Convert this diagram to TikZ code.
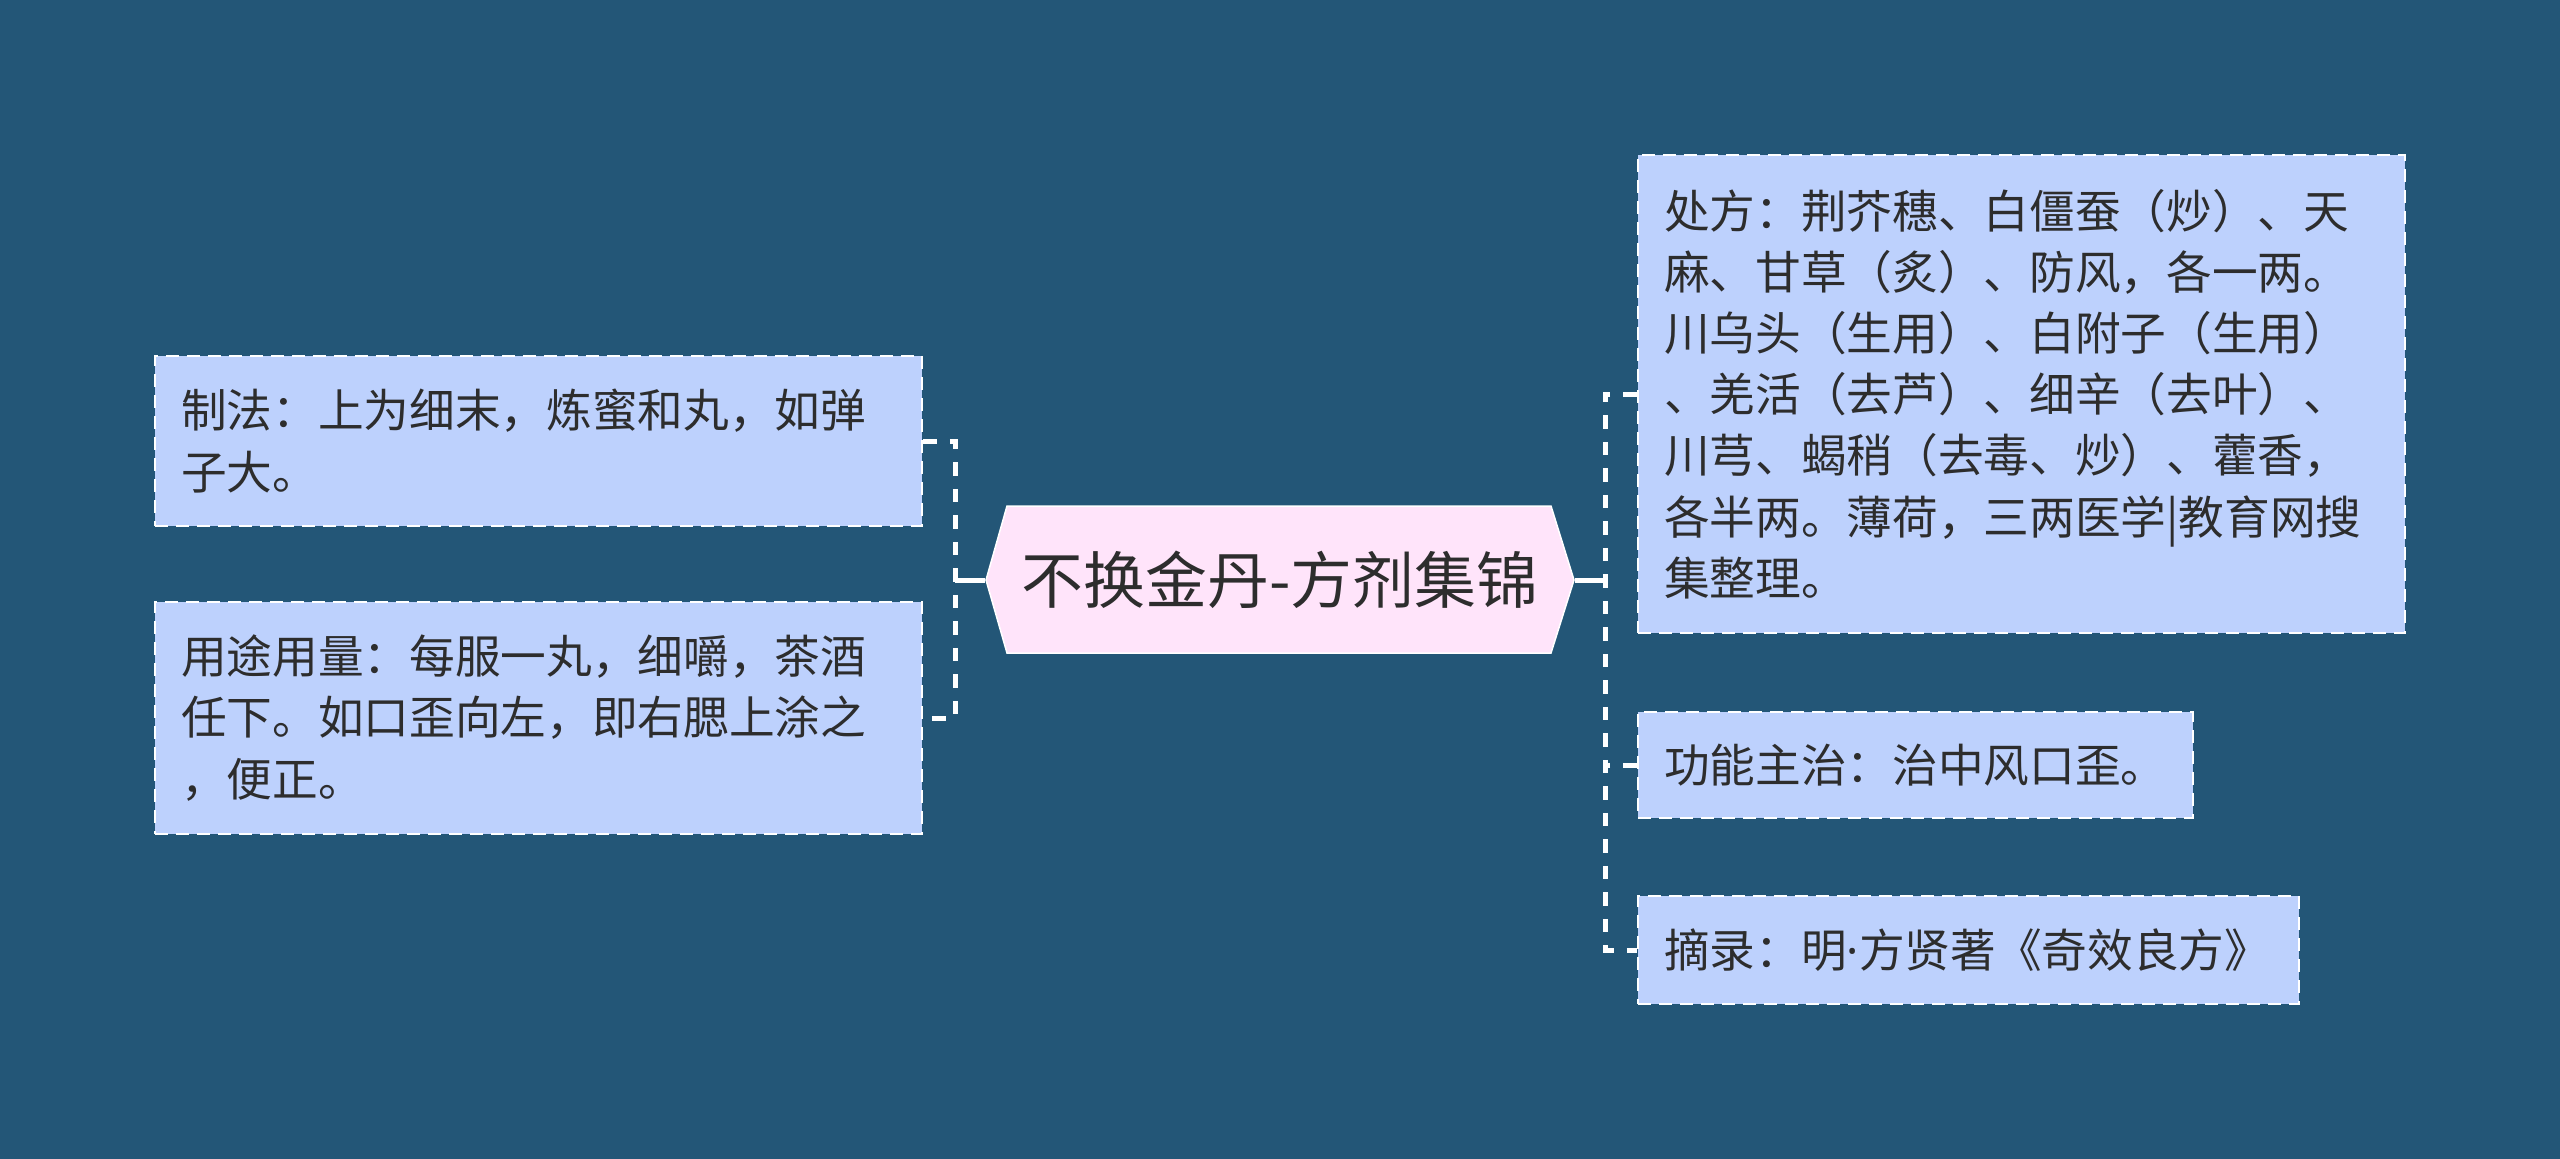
\documentclass[tikz,border=0pt]{standalone}
\usepackage{fontspec}
\setmainfont{Noto Sans CJK SC}
\newfontfamily\latinfont{Noto Sans}
\usepackage{xcolor}
\definecolor{bgblue}{RGB}{35,86,119}
\definecolor{boxblue}{RGB}{189,209,253}
\definecolor{rootpink}{RGB}{255,228,250}
\definecolor{inkgray}{RGB}{45,45,45}

\begin{document}
\begin{tikzpicture}[x=0.1mm, y=-0.1mm,
                    leaf/.style={fill=boxblue, draw=white, line width=0.28mm, dash pattern=on 1.3mm off 0.8mm,
                                 text=inkgray, font=\fontsize{13}{17.4}\selectfont, align=left,
                                 inner xsep=2.6mm, inner ysep=0pt, anchor=center},
                    rootnode/.style={text=inkgray, font=\fontsize{17.6}{21}\selectfont,
                                     minimum width=58.8mm, minimum height=14.7mm, inner sep=0pt},
                    trunk/.style={white, line width=0.5mm},
                    branch/.style={white, line width=0.5mm, dash pattern=on 1.35mm off 1.3mm}]
                      \fill[bgblue] (0, 0) rectangle (2560, 1159);
                      \filldraw[fill=rootpink, draw=white, line width=0.15mm] (986, 580) -- (1007, 506) -- (1551, 506)
                               -- (1574, 580) -- (1551, 653) -- (1007, 653) -- cycle;
                      \node[rootnode] (root) at (1280, 580) {不换金丹-方剂集锦};
                      \node[leaf, text width=71.5mm, minimum height=17mm] (zhifa) at (538.5, 441)
                           {制法：上为细末，炼蜜和丸，如弹\\子大。};
                      \node[leaf, text width=71.5mm, minimum height=23.2mm] (yongtu) at (538.5, 718)
                           {用途用量：每服一丸，细嚼，茶酒\\任下。如口歪向左，即右腮上涂之\\，便正。};
                      \node[leaf, text width=71.5mm, minimum height=47.8mm] (chufang) at (2021.5, 394)
                           {处方：荆芥穗、白僵蚕（炒）、天\\麻、甘草（炙）、防风，各一两。\\川乌头（生用）、白附子（生用）\\、羌活（去芦）、细辛（去叶）、\\川芎、蝎稍（去毒、炒）、藿香，\\各半两。薄荷，三两医学|教育网搜\\集整理。};
                      \node[leaf, text width=50.3mm, minimum height=10.6mm] (gongneng) at (1915.5, 765)
                           {功能主治：治中风口歪。};
                      \node[leaf, text width=60.9mm, minimum height=10.8mm] (zhailu) at (1968.5, 950)
                           {摘录：明{\latinfont ·}方贤著《奇效良方》};
                      \coordinate (lspine) at (955, 580);
                      \coordinate (rspine) at (1605, 580);
                      \draw[trunk] (root.west) -- (lspine);
                      \draw[trunk] (root.east) -- (rspine);
                      \draw[branch] (zhifa.east) -- (zhifa.east -| lspine) -- (yongtu.east -| lspine) -- (yongtu.east);
                      \draw[branch] (chufang.west) -- (chufang.west -| rspine) -- (zhailu.west -| rspine) -- (zhailu.west);
                      \draw[branch] (gongneng.west) -- (gongneng.west -| rspine);
                  \end{tikzpicture}
\end{document}
